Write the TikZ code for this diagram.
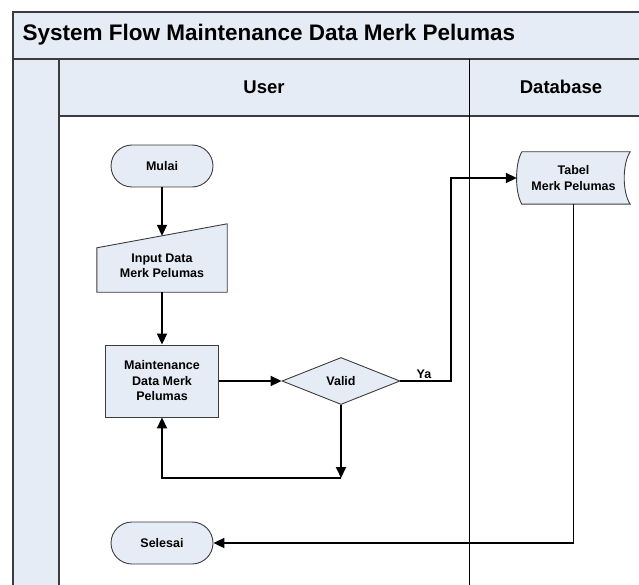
\documentclass[tikz,border=0pt]{standalone}
\usepackage{fontspec}
\setmainfont{Liberation Sans}
\usetikzlibrary{positioning}
\usetikzlibrary{calc}
\usetikzlibrary{arrows.meta}
\usetikzlibrary{shapes.geometric}
\usetikzlibrary{backgrounds}
\definecolor{lane}{RGB}{230,236,246}
\definecolor{edge}{RGB}{60,60,60}
\newcommand{\flowfont}{\bfseries\fontsize{12.5}{15.5}\selectfont}
\tikzset{term/.style = {draw=edge, fill=lane, line width=0.9pt, rounded corners=21pt, minimum width=102pt, minimum height=42pt, font=\flowfont}}
\tikzset{proc/.style = {draw=edge, fill=lane, line width=0.9pt, minimum width=113pt, minimum height=72pt, align=center, font=\flowfont}}
\tikzset{dec/.style = {diamond, draw=edge, fill=lane, line width=0.9pt, inner sep=0pt, minimum width=118pt, minimum height=47pt, font=\flowfont}}
\tikzset{txtbox/.style = {align=center, inner sep=0pt, font=\flowfont}}
\tikzset{special/.style = {draw=edge, fill=lane, line width=0.9pt}}
\tikzset{flow/.style = {line width=1.8pt, -{Triangle[length=11pt, width=10pt]}}}
\tikzset{frame/.style = {draw=edge, line width=1.4pt}}

\begin{document}
\begin{tikzpicture}[x=1pt, y=-1pt]
    \useasboundingbox (0,0) rectangle (639,585);
    \clip (0,0) rectangle (639,585);
    % swimlanes
    \fill[lane] (13,12) rectangle (660,116);
    \fill[lane] (13,116) rectangle (59,600);
    \draw[frame] (660,12) -- (13,12) -- (13,600);
    \draw[frame, line width=1.8pt] (13,59) -- (660,59);
    \draw[frame] (59,59) -- (59,600);
    \draw[frame] (59,116) -- (660,116);
    \draw[black, line width=0.8pt] (469,59) -- (469,600);
    \node[anchor=west, font=\bfseries\fontsize{22.5}{27}\selectfont] (judul) at (19,35) {System Flow Maintenance Data Merk Pelumas};
    \node[font=\bfseries\fontsize{18.5}{22}\selectfont] (user) at (264,87) {User};
    \node[font=\bfseries\fontsize{18.5}{22}\selectfont] (db) at (561,87) {Database};
    % flow
    \node[term] (mulai) at (162,166) {Mulai};
    \node[txtbox, minimum width=130pt, minimum height=52pt] (input) at (162,266) {Input Data\\Merk Pelumas};
    \node[proc] (maint) at (162,381) {Maintenance\\Data Merk\\Pelumas};
    \node[dec] (valid) at (341,381) {Valid};
    \node[txtbox, minimum width=113pt, minimum height=52pt] (tabel) at (573.5,178) {Tabel\\Merk Pelumas};
    \node[term] (selesai) at (162,543) {Selesai};
    \begin{scope}[on background layer]
        \draw[special] (input.south west) -- (input.south east) -- ($(input.north east)+(0,-16)$) -- ($(input.north west)+(0,8)$) -- cycle;
        \draw[special] ($(tabel.north west)+(5,0)$) .. controls +(-7,12) and +(-7,-12) .. ($(tabel.south west)+(5,0)$) -- (tabel.south east) .. controls +(-8,-12) and +(-8,12) .. (tabel.north east) -- cycle;
    \end{scope}
    \coordinate (inptop) at ($(input.north)+(0,-4)$);
    \coordinate (loop) at (341,478);
    \coordinate (yaturn) at (451,381);
    \draw[flow] (mulai) -- (inptop);
    \draw[flow] (input) -- (maint);
    \draw[flow] (maint) -- (valid);
    \draw[flow] (valid) -- (loop);
    \draw[flow] (loop) -| (maint);
    \draw[flow] (valid) -- (yaturn) |- (tabel);
    \draw[flow] (tabel) |- (selesai);
    \node[fill=white, inner sep=1pt, font=\flowfont] (ya) at (424,374) {Ya};
\end{tikzpicture}
\end{document}
